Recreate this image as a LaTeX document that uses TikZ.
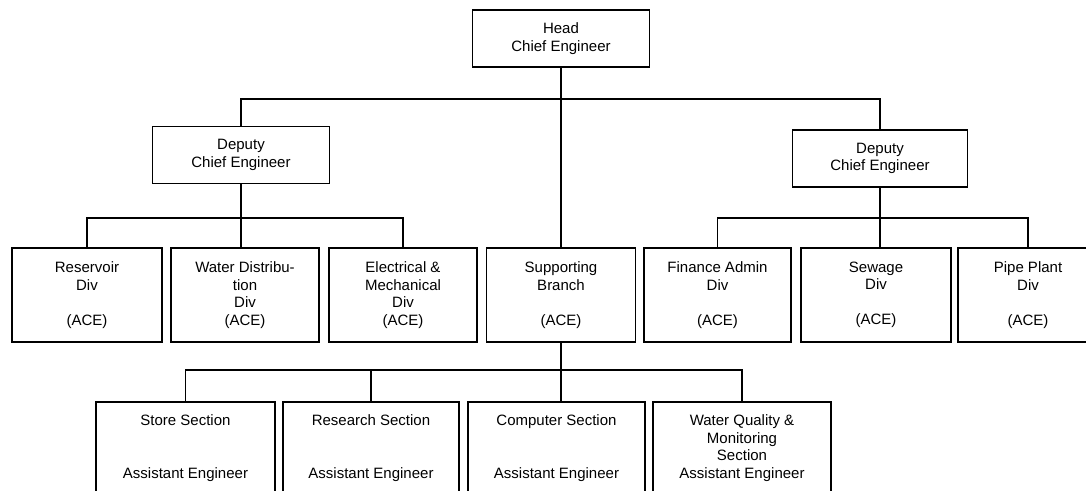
\documentclass[tikz,border=0pt]{standalone}
\usepackage{fontspec}
\setmainfont{Liberation Sans}
\usetikzlibrary{positioning}

\begin{document}
\begin{tikzpicture}[x=1pt, y=-1pt,
  box/.style={draw, line width=1.5pt, inner sep=0pt, align=center,
    font=\fontsize{15}{17.5}\selectfont},
  topbox/.style={box, minimum width=177, minimum height=57},
  divbox/.style={box, minimum width=148, minimum height=94},
  secbox/.style={box, minimum width=177, minimum height=92},
  link/.style={line width=1.5pt}]
  \useasboundingbox (0,0) rectangle (1086,490);
  \clip (0,0) rectangle (1086,490);

  % --- Head ---
  \node[topbox] (head) at (561,38.5) {Head\\Chief Engineer};

  % --- Deputies ---
  \node[topbox] (depL) at (241,155) {Deputy\\Chief Engineer};
  \node[topbox, minimum width=175] (depR) at (880,158.5) {Deputy\\Chief Engineer};

  % --- Divisions ---
  \node[divbox, minimum width=150] (res) at (87,295) {Reservoir\\Div\\[17.5pt](ACE)};
  \node[divbox] (wat) at (245,295) {Water Distribu-\\tion\\Div\\(ACE)};
  \node[divbox] (ele) at (403,295) {Electrical \&\\Mechanical\\Div\\(ACE)};
  \node[divbox, minimum width=149] (sup) at (561,295) {Supporting\\Branch\\[17.5pt](ACE)};
  \node[divbox, minimum width=147] (fin) at (717.5,295) {Finance Admin\\Div\\[17.5pt](ACE)};
  \node[divbox, minimum width=150] (sew) at (876,295) {Sewage\\Div\\[17.5pt](ACE)};
  \node[divbox, minimum width=140] (pip) at (1028,295) {Pipe Plant\\Div\\[17.5pt](ACE)};

  % --- Sections ---
  \node[secbox, minimum width=179] (store) at (185.5,448) {Store Section\\[35pt]Assistant Engineer};
  \node[secbox, minimum width=176] (rsch) at (371,448) {Research Section\\[35pt]Assistant Engineer};
  \node[secbox] (comp) at (556.5,448) {Computer Section\\[35pt]Assistant Engineer};
  \node[secbox, minimum width=178] (wq) at (742,448) {Water Quality \&\\Monitoring\\Section\\Assistant Engineer};

  % --- connectors ---
  \coordinate (busA) at (563,99);
  \coordinate (busL) at (243,218);
  \coordinate (busR) at (882,218);
  \coordinate (busB) at (563,370);

  \draw[link] (depL.north) |- (busA) -| (depR.north);
  \draw[link] (head.south) -- (head.south |- sup.north);

  \draw[link] (res.north) |- (busL) -| (ele.north);
  \draw[link] (depL.south) -- (depL.south |- wat.north);

  \draw[link] (fin.north) |- (busR) -| (pip.north);
  \draw[link] (depR.south) -- (depR.south |- sew.north);

  \draw[link] (store.north) |- (busB) -| (wq.north);
  \draw[link] (sup.south) -- (sup.south |- comp.north);
  \draw[link] (rsch.north) -- (rsch.north |- busB);
\end{tikzpicture}
\end{document}
